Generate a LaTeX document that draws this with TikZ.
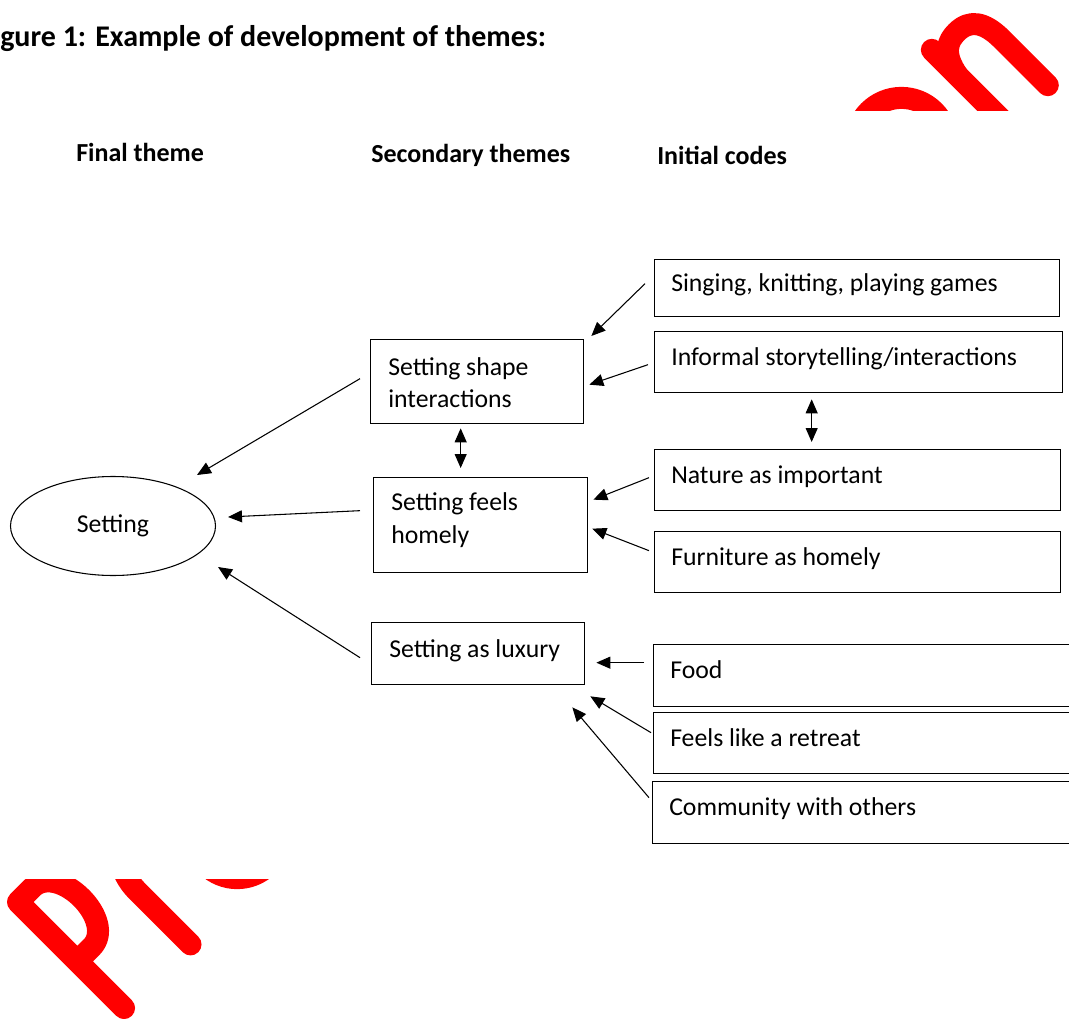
\documentclass[tikz,border=0pt]{standalone}
\usepackage{fontspec}
\setmainfont{Carlito}
\usetikzlibrary{arrows.meta,calc,shapes.geometric}
\begin{document}
\begin{tikzpicture}[x=0.75pt,y=-0.75pt,
 bx/.style={draw=black, line width=1pt, inner sep=0pt, anchor=north west, rectangle},
 tx/.style={inner sep=0pt, anchor=base west, font=\fontsize{19.3pt}{24pt}\selectfont},
 hd/.style={inner sep=0pt, anchor=base west, font=\fontsize{19.5pt}{24pt}\selectfont\bfseries},
 ttl/.style={inner sep=0pt, anchor=base west, font=\fontsize{22.5pt}{27pt}\selectfont\bfseries},
 arr/.style={line width=0.8pt, -{Triangle[length=10.5pt,width=9pt]}},
 darr/.style={line width=0.8pt, {Triangle[length=10.5pt,width=9pt]}-{Triangle[length=10.5pt,width=9pt]}},
 wm/.style={draw=red, line width=16.5pt, line cap=round, line join=round}]
\fill[white] (0,0) rectangle (1069,1019);
\useasboundingbox (0,0) rectangle (1069,1019);
% watermark fragments, top right
\begin{scope}
\clip (780,0) rectangle (1069,111);
\begin{scope}[shift={(1007.5,125.5)}, x={(0.5303pt,0.5303pt)}, y={(-0.5303pt,0.5303pt)}]
\draw[wm] (0,0) -- (0,107);
\draw[wm] (0,70) .. controls (5,98) and (18,102) .. (30,102) .. controls (48,102) and (57,90) .. (57,65) -- (57,0);
\draw[wm] (-88,62) circle[radius=46];
\end{scope}
\end{scope}
% watermark fragments, bottom left
\begin{scope}
\clip (0,879) rectangle (320,1019);
\begin{scope}[shift={(18,902)}, x={(0.5303pt,0.5303pt)}, y={(-0.5303pt,0.5303pt)}]
\draw[wm] (0,-150) -- (0,0) -- (20,0) .. controls (57,0) and (57,-84) .. (20,-84) -- (0,-84);
\draw[wm] (92,-152) -- (92,-78) .. controls (92,-45) and (110,-28) .. (140,-28);
\draw[wm] (203,-107) circle[radius=44];
\end{scope}
\end{scope}
% title and headers
\node[ttl] (title) at (0,47) {gure 1: Example of development of themes:};
\node[hd] (hfinal) at (76,162) {Final theme};
\node[hd] (hsec) at (371,163) {Secondary themes};
\node[hd] (hinit) at (657,165) {Initial codes};
% initial codes
\node[bx, minimum width=303.75pt, minimum height=42.75pt] (sing) at (654,259) {};
\node[tx] (singT) at ($(sing.north west)+(17,33)$) {Singing, knitting, playing games};
\node[bx, minimum width=306pt, minimum height=45.75pt] (inf) at (654,331) {};
\node[tx] (infT) at ($(inf.north west)+(17,34)$) {Informal storytelling/interactions};
\node[bx, minimum width=304.5pt, minimum height=45.75pt] (nat) at (654,449) {};
\node[tx] (natT) at ($(nat.north west)+(17,34)$) {Nature as important};
\node[bx, minimum width=304.5pt, minimum height=45.75pt] (fur) at (654,531) {};
\node[tx] (furT) at ($(fur.north west)+(17,34)$) {Furniture as homely};
\node[bx, minimum width=320.25pt, minimum height=46.5pt] (food) at (653,644) {};
\node[tx] (foodT) at ($(food.north west)+(17,34)$) {Food};
\node[bx, minimum width=320.25pt, minimum height=45.75pt] (ret) at (653,712) {};
\node[tx] (retT) at ($(ret.north west)+(17,34)$) {Feels like a retreat};
\node[bx, minimum width=321pt, minimum height=46.5pt] (com) at (652,781) {};
\node[tx] (comT) at ($(com.north west)+(17,34)$) {Community with others};
% secondary themes
\node[bx, minimum width=159.75pt, minimum height=63pt] (ssi) at (370,339) {};
\node[tx] (ssiT1) at ($(ssi.north west)+(18,36)$) {Setting shape};
\node[tx] (ssiT2) at ($(ssi.north west)+(18,68.5)$) {interactions};
\node[bx, minimum width=160.5pt, minimum height=71.25pt] (sfh) at (373,477) {};
\node[tx] (sfhT1) at ($(sfh.north west)+(18,33)$) {Setting feels};
\node[tx] (sfhT2) at ($(sfh.north west)+(18,66)$) {homely};
\node[bx, minimum width=159.75pt, minimum height=46.5pt] (lux) at (371,622) {};
\node[tx] (luxT) at ($(lux.north west)+(18,35)$) {Setting as luxury};
% final theme
\node[draw=black, ellipse, line width=0.8pt, minimum width=153.75pt, minimum height=74.25pt, inner sep=0pt, font=\fontsize{19.3pt}{24pt}\selectfont] (ell) at (113,526) {Setting};
% connectors
\draw[arr] ($(sing.west)+(-9,-4.5)$) -- ($(ssi.north east)+(7,-3)$);
\draw[arr] ($(inf.west)+(-6,2.5)$) -- ($(ssi.east)+(5,3)$);
\draw[arr] ($(ssi.west)+(-10,-3)$) -- ($(ell.center)+(84,-51)$);
\draw[darr] ($(ssi.south)+(-16.5,4)$) -- ($(sfh.north)+(-20,-9)$);
\draw[darr] ($(inf.south)+(-47,6)$) -- ($(nat.north)+(-46,-7)$);
\draw[arr] ($(sfh.west)+(-13,-14.5)$) -- ($(ell.center)+(115,-9)$);
\draw[arr] ($(lux.west)+(-11,4)$) -- ($(ell.center)+(105,41)$);
\draw[arr] ($(nat.west)+(-5,-2.5)$) -- ($(sfh.east)+(5,-25.5)$);
\draw[arr] ($(fur.west)+(-5,-11.5)$) -- ($(sfh.east)+(4,3.5)$);
\draw[arr] ($(food.west)+(-9,-13)$) -- ($(lux.east)+(11,9)$);
\draw[arr] ($(ret.west)+(-2,-10.5)$) -- ($(lux.south east)+(5,11)$);
\draw[arr] ($(com.west)+(-3,-15)$) -- ($(lux.south east)+(-13,22)$);
\end{tikzpicture}
\end{document}
